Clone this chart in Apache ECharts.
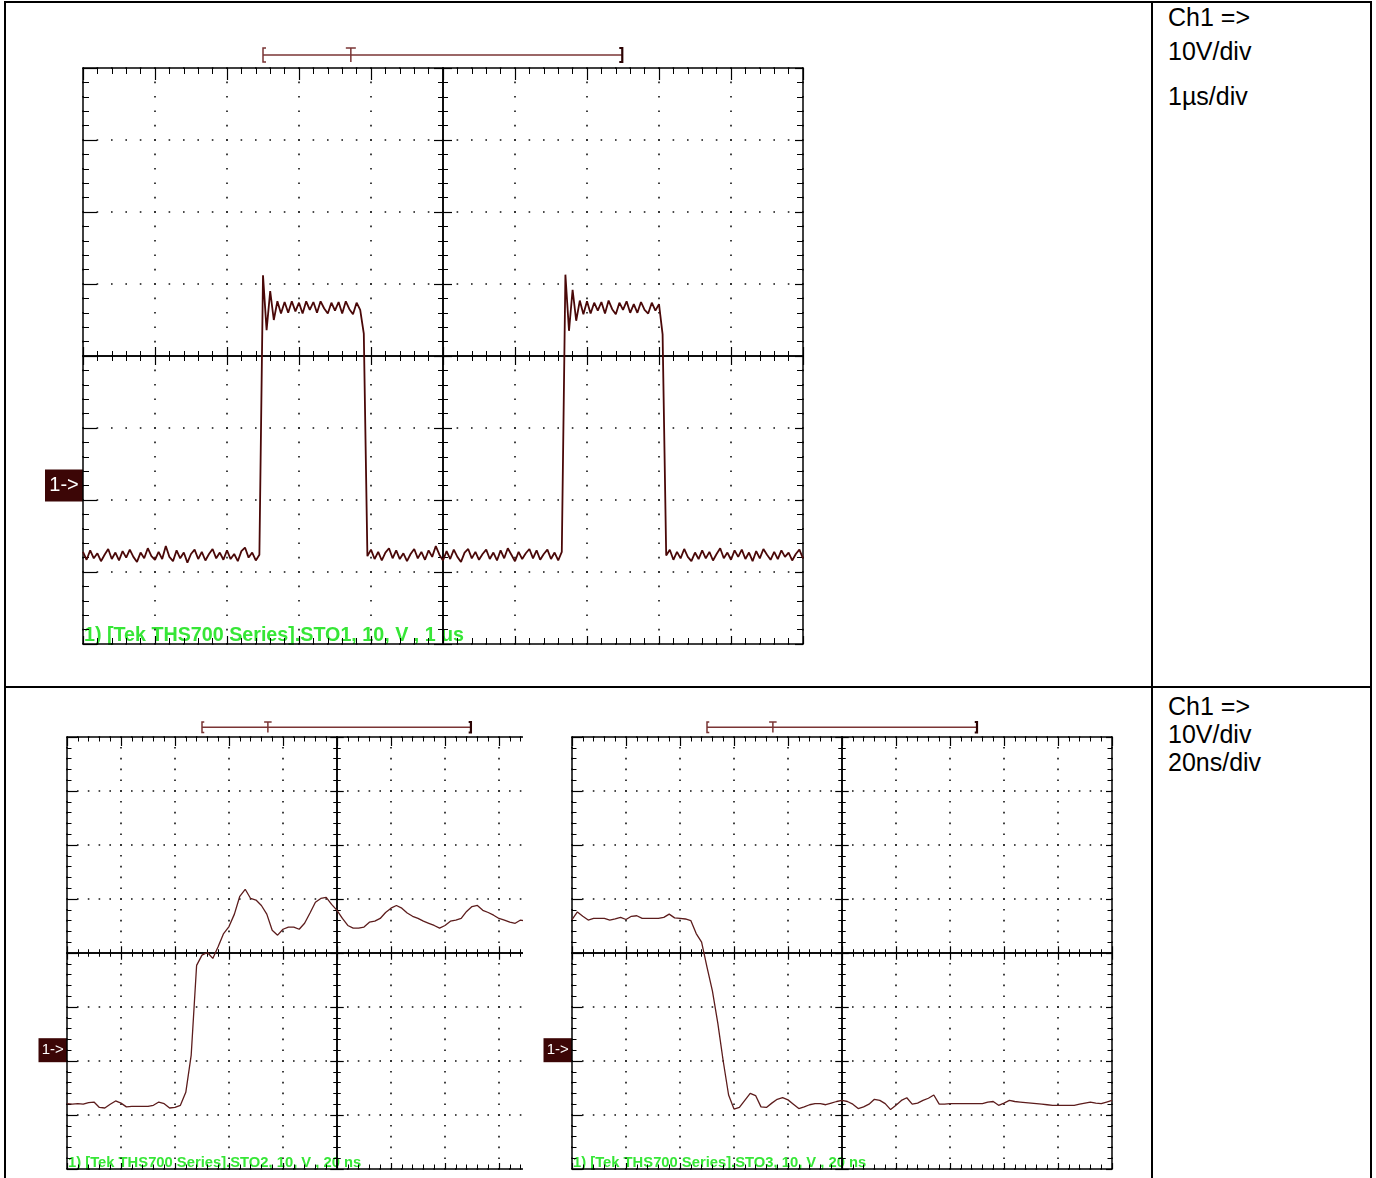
<!DOCTYPE html>
<html>
<head>
<meta charset="utf-8">
<title>Ch1 10V/div</title>
<script src="https://cdn.jsdelivr.net/npm/echarts@6/dist/echarts.min.js"></script>
<style>
  html, body { margin: 0; padding: 0; background: #fff; }
  body { position: relative; width: 1376px; height: 1178px; overflow: hidden; }
  .rule { position: absolute; background: #000; }
  .note { position: absolute; left: 1168px; font: 25px "Liberation Sans", Arial, sans-serif; line-height: 1; color: #000; white-space: nowrap; }
  .scope { position: absolute; left: 0; top: 0; width: 1376px; height: 1178px; }
  #clipB { position: absolute; left: 0; top: 0; width: 523px; height: 1178px; overflow: hidden; }
</style>
</head>
<body>
<!-- table rules -->
<div class="rule" style="left:4px;top:1px;width:1368px;height:2px"></div>
<div class="rule" style="left:4px;top:1px;width:2px;height:1177px"></div>
<div class="rule" style="left:1151px;top:1px;width:2px;height:1177px"></div>
<div class="rule" style="left:1370px;top:1px;width:2px;height:1177px"></div>
<div class="rule" style="left:4px;top:686px;width:1368px;height:2px"></div>

<div class="note" style="top:5px">Ch1 =&gt;</div>
<div class="note" style="top:39px">10V/div</div>
<div class="note" style="top:84px">1µs/div</div>
<div class="note" style="top:694px">Ch1 =&gt;</div>
<div class="note" style="top:722px">10V/div</div>
<div class="note" style="top:750px">20ns/div</div>

<div id="scopeA" class="scope"></div>
<div id="clipB"><div id="scopeB" class="scope"></div></div>
<div id="scopeC" class="scope"></div>

<script>
// 10 V/div on every screen, volts counted from the screen centre line
var voltsPerDiv = 10;
// level of the "1->" ground marker
var groundVolts = -18;

// upper screen, 1 µs/div, one sample every 0.05 µs
var topStep = 0.05;
var topLow1 = [
  -27.2, -28.3, -27.0, -28.1, -27.4, -28.5, -27.6, -26.8, -28.2, -27.3,
  -28.4, -27.1, -28.0, -26.9, -27.9, -28.6, -27.3, -28.1, -26.7, -27.8,
  -28.3, -27.2, -28.2, -26.4, -27.9, -28.5, -27.0, -28.1, -27.3, -28.7,
  -27.5, -26.9, -28.2, -27.2, -28.4, -27.5, -26.8, -28.1, -27.3, -28.3,
  -27.0, -28.2, -27.5, -28.5, -27.1, -26.6, -28.0, -27.3, -28.4, -27.6
];
var topHigh1 = [
  11.2, 3.6, 9.0, 5.0, 7.6, 5.9, 7.5, 6.0, 7.6, 6.2,
  7.4, 5.9, 7.6, 6.4, 7.5, 6.0, 7.6, 6.6, 5.9, 7.4,
  6.3, 7.5, 5.9, 7.6, 6.5, 5.8, 7.4, 6.4, 3.1
];
var topLow2 = [
  -27.8, -26.9, -28.2, -27.2, -28.4, -27.3, -26.7, -28.1, -27.0, -28.2,
  -27.4, -28.5, -27.5, -26.8, -28.1, -27.2, -28.3, -27.0, -27.9, -26.4,
  -27.6, -28.4, -27.1, -28.2, -26.9, -27.9, -28.6, -27.3, -26.8, -28.1,
  -27.2, -28.3, -27.5, -26.9, -28.2, -27.3, -28.4, -27.0, -28.1, -26.7,
  -27.6, -28.5, -27.2, -28.2, -27.4, -26.8, -28.1, -27.0, -28.3, -27.5,
  -26.9, -28.2, -27.3, -28.4, -27.2
];
var topHigh2 = [
  11.3, 3.5, 9.2, 4.9, 7.7, 5.8, 7.6, 5.9, 7.4, 6.3,
  7.5, 5.9, 7.7, 6.5, 5.8, 7.4, 6.4, 7.6, 6.0, 7.2,
  6.0, 7.5, 6.4, 5.9, 7.4, 6.3, 7.2, 3.0
];
var topLow3 = [
  -27.7, -26.9, -28.3, -27.2, -28.1, -26.8, -27.9, -28.5, -27.3, -28.2,
  -27.0, -28.1, -27.2, -28.4, -27.5, -26.7, -28.1, -27.3, -28.3, -27.0,
  -27.9, -26.9, -28.2, -27.3, -28.5, -27.1, -28.1, -26.8, -27.6, -28.3,
  -27.2, -28.2, -27.0, -27.9, -27.3, -28.4, -27.5, -26.9, -28.1
];

// lower left screen (rising edge), 20 ns/div, one sample every 2 ns
var riseStep = 2;
var riseVolts = [
  -27.9, -28.0, -27.9, -28.0, -27.7, -27.6, -28.6, -28.7, -28.0, -27.4,
  -27.8, -28.5, -28.4, -28.4, -28.4, -28.4, -28.2, -27.6, -27.9, -28.7,
  -28.6, -28.2, -25.8, -18.9, -2.3, -0.4, 0.1, -1.0, 1.2, 3.6,
  4.9, 7.2, 10.5, 11.8, 10.1, 9.8, 8.8, 7.2, 4.2, 3.3,
  4.4, 4.8, 4.8, 4.4, 5.5, 7.4, 9.4, 10.1, 10.3, 9.0,
  7.9, 6.4, 5.1, 4.6, 4.6, 4.8, 5.7, 5.9, 6.4, 7.5,
  8.3, 8.8, 8.3, 7.4, 6.8, 6.4, 5.9, 5.5, 5.1, 4.6,
  5.1, 5.9, 6.1, 6.4, 7.7, 8.6, 8.8, 7.9, 7.5, 7.0,
  6.4, 6.1, 5.7, 5.5, 6.1, 5.9
];

// lower right screen (falling edge), 20 ns/div, one sample every 2 ns
var fallStep = 2;
var fallVolts = [
  6.2, 7.6, 6.8, 6.1, 6.4, 6.4, 6.4, 6.1, 6.3, 6.6,
  6.2, 6.8, 6.9, 6.4, 6.4, 6.4, 6.4, 6.6, 7.2, 6.5,
  6.4, 6.3, 6.0, 3.6, 2.0, -2.6, -7.0, -13.0, -20.0, -26.3,
  -28.9, -28.6, -27.3, -26.0, -26.4, -28.5, -28.6, -27.8, -27.1, -26.8,
  -27.2, -28.0, -28.8, -28.5, -28.1, -27.9, -27.9, -28.1, -27.8, -27.5,
  -27.3, -27.5, -28.0, -28.8, -28.5, -28.0, -27.1, -27.3, -27.9, -29.0,
  -28.2, -27.3, -26.8, -28.0, -27.8, -27.3, -26.9, -26.3, -28.0, -28.0,
  -27.9, -27.9, -27.9, -27.9, -27.9, -27.9, -27.9, -27.6, -27.5, -28.2,
  -27.8, -27.3, -27.5, -27.6, -27.7, -27.8, -27.9, -28.0, -28.1, -28.2,
  -28.2, -28.2, -28.2, -28.2, -28.0, -27.8, -27.6, -27.8, -27.9, -27.6,
  -27.3
];

// record window marker "[ T ]" in time units of each screen
var topBracket = [2.5, 3.72, 7.49];
var riseBracket = [50, 74.4, 149.6];
var fallBracket = [50, 74.4, 150];

var topLabel = '1) [Tek THS700 Series].STO1, 10, V , 1 us';
var riseLabel = '1) [Tek THS700 Series].STO2, 10, V , 20 ns';
var fallLabel = '1) [Tek THS700 Series].STO3, 10, V , 20 ns';

var panels = [
  { el: 'scopeA', left: 83, top: 68, div: 72, timePerDiv: 1, step: topStep,
    volts: topLow1.concat(topHigh1, topLow2, topHigh2, topLow3),
    bracket: topBracket, label: topLabel, color: '#4a0808', width: 1.8 },
  { el: 'scopeB', left: 67, top: 737, div: 54, timePerDiv: 20, step: riseStep,
    volts: riseVolts, bracket: riseBracket, label: riseLabel, color: '#5c1c1c', width: 1.3 },
  { el: 'scopeC', left: 572, top: 737, div: 54, timePerDiv: 20, step: fallStep,
    volts: fallVolts, bracket: fallBracket, label: fallLabel, color: '#5c1c1c', width: 1.3 }
];

var FONT = '"Liberation Sans", Arial, sans-serif';

// one graticule edge or centre line, built from an axis
function graticuleAxis(dim, p, position, offset, inside, tickLen, minorLen, dots) {
  var isX = dim === 'x';
  var gap = p.div / 5;
  return {
    type: 'value',
    position: position,
    offset: offset,
    min: isX ? 0 : -4 * voltsPerDiv,
    max: isX ? 10 * p.timePerDiv : 4 * voltsPerDiv,
    interval: isX ? p.timePerDiv : voltsPerDiv,
    axisLine: { show: true, onZero: false, lineStyle: { color: '#000', width: 1.5 } },
    axisTick: { show: true, inside: inside, length: tickLen, lineStyle: { color: '#000', width: 1.2 } },
    minorTick: { show: true, splitNumber: 5, length: minorLen, lineStyle: { color: '#000', width: 1 } },
    axisLabel: { show: false },
    splitLine: {
      show: dots,
      lineStyle: { color: '#111', width: 1.6, type: [1.6, gap - 1.6], dashOffset: 0.8 }
    },
    minorSplitLine: { show: false }
  };
}

function overlay(chart, p) {
  var k = p.div / 72;
  var bx = p.bracket.map(function (t) { return chart.convertToPixel({ xAxisIndex: 0 }, t); });
  var gy = chart.convertToPixel({ yAxisIndex: 0 }, groundVolts);
  var by = p.top - 13 * k;
  var bh = 7 * k;
  var brown = '#7a3434';
  var boxW = 38 * k, boxH = 32 * k;
  return [
    { type: 'line', shape: { x1: bx[0], y1: by, x2: bx[2], y2: by }, style: { stroke: brown, lineWidth: 1.5 } },
    { type: 'polyline', shape: { points: [[bx[0] + 3 * k, by - bh], [bx[0], by - bh], [bx[0], by + bh], [bx[0] + 3 * k, by + bh]] },
      style: { stroke: brown, fill: 'none', lineWidth: 1.5 } },
    { type: 'line', shape: { x1: bx[1], y1: by - bh, x2: bx[1], y2: by + bh }, style: { stroke: brown, lineWidth: 1.5 } },
    { type: 'line', shape: { x1: bx[1] - 5 * k, y1: by - bh, x2: bx[1] + 5 * k, y2: by - bh }, style: { stroke: brown, lineWidth: 1.5 } },
    { type: 'polyline', shape: { points: [[bx[2] - 3 * k, by - bh], [bx[2], by - bh], [bx[2], by + bh], [bx[2] - 3 * k, by + bh]] },
      style: { stroke: '#2b0303', fill: 'none', lineWidth: 2.2 } },
    { type: 'rect', shape: { x: p.left - boxW, y: gy - boxH / 2, width: boxW, height: boxH }, style: { fill: '#3c0606' } },
    { type: 'text', x: p.left - boxW / 2, y: gy,
      style: { text: '1->', fill: '#fff', font: (20 * k) + 'px ' + FONT, align: 'center', verticalAlign: 'middle' } },
    { type: 'text', z: -1, x: p.left + 1, y: p.top + p.div * 8 + 2 * k,
      style: { text: p.label, fill: '#36e636', font: 'bold ' + (19.7 * k) + 'px ' + FONT, verticalAlign: 'bottom' } }
  ];
}

function drawScope(p) {
  var k = p.div / 72;
  var W = p.div * 10, H = p.div * 8;
  var chart = echarts.init(document.getElementById(p.el));
  var data = p.volts.map(function (v, i) { return [+(i * p.step).toFixed(3), v]; });
  chart.setOption({
    animation: false,
    backgroundColor: 'transparent',
    grid: { left: p.left, top: p.top, width: W, height: H, containLabel: false, outerBoundsMode: 'none' },
    xAxis: [
      graticuleAxis('x', p, 'bottom', 0, true, 8 * k, 6 * k, true),
      graticuleAxis('x', p, 'top', 0, true, 12 * k, 6 * k, false),
      graticuleAxis('x', p, 'bottom', -H / 2, true, 9 * k, 5 * k, false),
      graticuleAxis('x', p, 'bottom', -H / 2, false, 9 * k, 5 * k, false)
    ],
    yAxis: [
      graticuleAxis('y', p, 'left', 0, true, 14 * k, 6 * k, true),
      graticuleAxis('y', p, 'right', 0, true, 8 * k, 6 * k, false),
      graticuleAxis('y', p, 'left', -W / 2, true, 9 * k, 5 * k, false),
      graticuleAxis('y', p, 'left', -W / 2, false, 9 * k, 5 * k, false)
    ],
    series: [{
      type: 'line',
      xAxisIndex: 0,
      yAxisIndex: 0,
      data: data,
      symbol: 'none',
      z: 3,
      lineStyle: { color: p.color, width: p.width }
    }]
  });
  chart.setOption({ graphic: overlay(chart, p) });
}

panels.forEach(drawScope);
</script>
</body>
</html>
